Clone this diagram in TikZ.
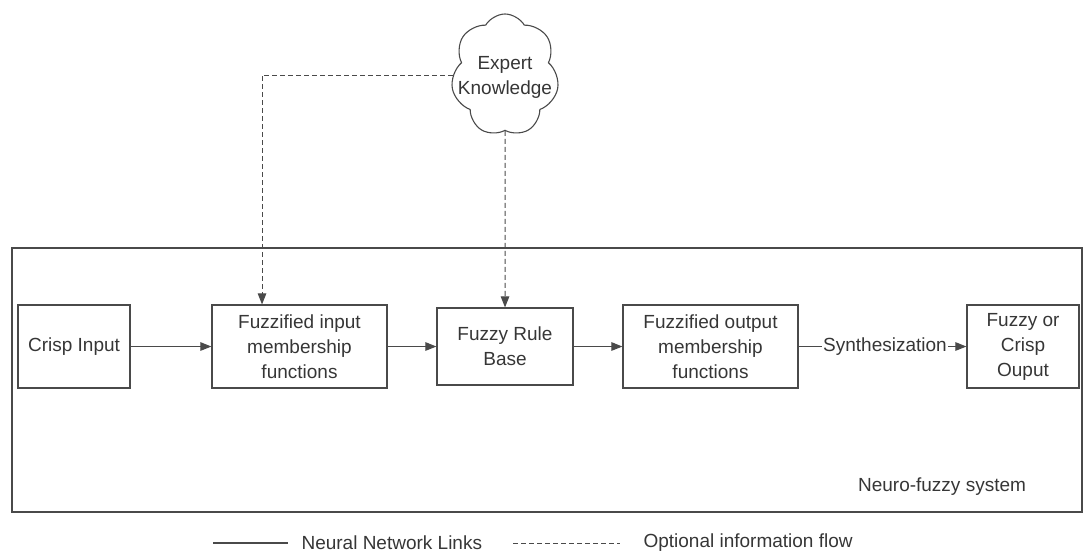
\documentclass[tikz,border=0pt]{standalone}
\usepackage{fontspec}
\setmainfont{Liberation Sans}
\usetikzlibrary{shapes.symbols,arrows.meta}
\definecolor{ink}{HTML}{363636}
\definecolor{linec}{HTML}{4A4A4A}
\begin{document}
\begin{tikzpicture}[x=1pt,y=-1pt,
  every node/.style={font=\fontsize{19}{25}\selectfont, text=ink},
  blockbox/.style={draw=linec, line width=1.2pt, align=center, inner sep=0pt},
  link/.style={draw=linec, line width=1.1pt, -{Triangle[length=11pt,width=8.5pt]}},
  optlink/.style={draw=linec, line width=1pt, dash pattern=on 5pt off 3pt, -{Triangle[length=11pt,width=8.5pt]}},
]
\useasboundingbox (0,0) rectangle (1083,555);
% outer frame
\node[draw=linec, line width=1.2pt, minimum width=1070pt, minimum height=264pt, inner sep=0pt] (frame) at (547,380) {};
% blocks
\node[blockbox, minimum width=112pt, minimum height=83pt] (ci) at (74,346.5) {Crisp Input};
\node[blockbox, minimum width=175pt, minimum height=83pt] (fin) at (299.5,346.5) {Fuzzified input\\membership\\functions};
\node[blockbox, minimum width=136pt, minimum height=77pt] (frb) at (505,346.5) {Fuzzy Rule\\Base};
\node[blockbox, minimum width=175pt, minimum height=83pt] (fout) at (710.5,346.5) {Fuzzified output\\membership\\functions};
\node[blockbox, minimum width=112pt, minimum height=83pt] (co) at (1023,346.5) {Fuzzy or\\Crisp\\Ouput};
\node[inner sep=1pt] (syn) at (885,346.5) {Synthesization};
% cloud
\node[cloud, cloud puffs=7, cloud puff arc=120, aspect=0.85, draw=linec, line width=1.1pt, minimum width=108pt, minimum height=122pt, inner sep=0pt] (cloud) at (505,75) {};
\node[align=center, inner sep=0pt] (ek) at (505,77) {Expert\\Knowledge};
% label
\node (nfs) at (942,487) {Neuro-fuzzy system};
% connectors
\draw[link] (ci) -- (fin);
\draw[link] (fin) -- (frb);
\draw[link] (frb) -- (fout);
\draw[draw=linec, line width=1.1pt] (fout) -- (syn);
\draw[link] (syn) -- (co);
\draw[optlink] (cloud.west) -| ([xshift=-37.5pt]fin.north);
\draw[optlink] (cloud.south) -- (frb.north);
% legend
\node[anchor=west] (lg1) at (298,543) {Neural Network Links};
\node[anchor=west] (lg2) at (640,543) {Optional information flow};
\coordinate (s1) at (213,543);
\coordinate (s2) at (513,543);
\draw[draw=linec, line width=1.1pt] (s1) -- ([xshift=-10pt]lg1.west);
\draw[draw=linec, line width=1pt, dash pattern=on 5pt off 3pt] (s2) -- ([xshift=-20pt]lg2.west);
\end{tikzpicture}
\end{document}
